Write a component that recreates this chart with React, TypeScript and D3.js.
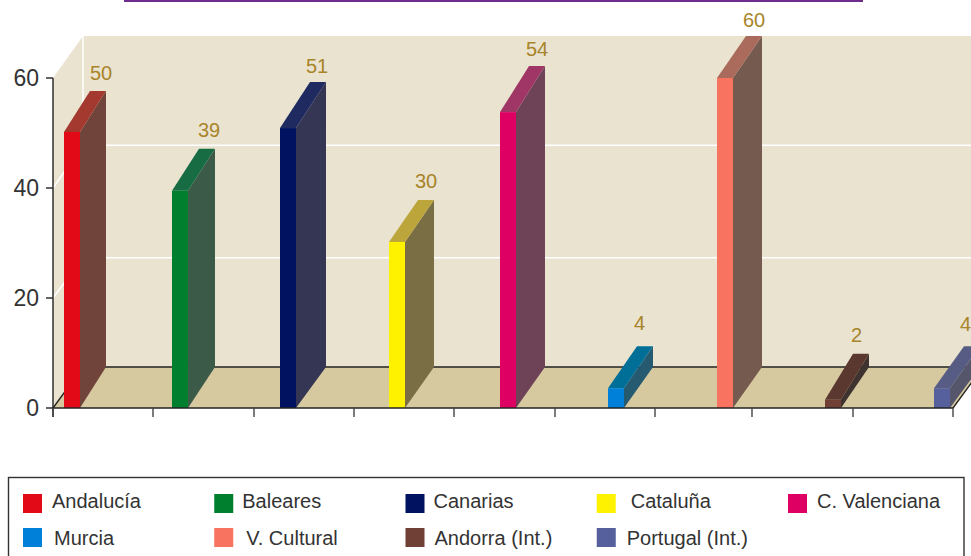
import React from "react";
import * as d3 from "d3";

const categories = ["Andalucía", "Baleares", "Canarias", "Cataluña", "C. Valenciana", "Murcia", "V. Cultural", "Andorra (Int.)", "Portugal (Int.)"];
const barValues = [50.2, 39.5, 50.9, 30.2, 53.8, 3.6, 60, 1.5, 3.6];
const valueLabels = ["50", "39", "51", "30", "54", "4", "60", "2", "4"];
const frontColors = ["#e30a17", "#00802f", "#001260", "#fff200", "#de0063", "#0080d8", "#f87360", "#703f35", "#55609c"];
const sideColors = ["#70443a", "#3c5a48", "#343654", "#7a6f44", "#6e4358", "#255a70", "#745a4f", "#3f3330", "#55566b"];
const topColors = ["#a3392f", "#176c44", "#1f2a60", "#bca53a", "#a03666", "#006f98", "#aa6b5d", "#5a382f", "#575c85"];
const yTicks = [0, 20, 40, 60];

// layout tweaks of the picture (not data)
const depthX = [26, 27, 30, 29, 29, 29, 29, 28, 30];
const depthY = [41, 42, 46, 42, 46, 42, 42, 46, 42];
const barNudge = [0, -0.75, -1.5, -1.25, 1, 0.25, 0.5, -0.25, 0];
const labelRaise = [11, 12, 9.5, 11.5, 10, 16, 9, 12, 15];
const xTickNudge = [0, 0, 1, 1, 1, 2, 2, -1, 0, 0];
const gridNudge = [0, 1, -1, 0];
const legendGaps = [29, 28, 28, 34, 29, 31, 32, 29, 30];
const legendColumns = 5;

const W = 971;
const H = 556;
const axisX = 53;
const wallDX = 30;
const line = d3.line();
const poly = (pts: [number, number][]) => line(pts) + "Z";

export default function App() {
  const y = d3.scaleLinear().domain([0, 60]).range([408, 78]);
  const yBack = d3.scaleLinear().domain([0, 60]).range([367, 36]);
  const x = d3.scaleBand().domain(categories).range([64, 950]).paddingInner(0.853).paddingOuter(0);
  const bw = x.bandwidth();
  const xTick = d3.scaleLinear().domain([0, 9]).range([axisX, 953]);
  const tickIdx = d3.range(10);
  const legX = d3.scaleLinear().domain([0, 4]).range([23, 788]);
  const legY = d3.scaleLinear().domain([0, 1]).range([494, 528]);
  const font = "'Liberation Sans', Arial, sans-serif";
  const y0 = y(0);
  const yB0 = yBack(0);
  const yTop = yBack(60);

  return (
    <svg width={W} height={H} style={{ position: "absolute", left: 0, top: 0, fontFamily: font, background: "#fff" }}>
      <rect x={124} y={0} width={739} height={2} fill="#702c8c" />

      {/* walls and floor */}
      <path d={poly([[axisX, y(60)], [axisX + wallDX, yTop], [W + 20, yTop], [W + 20, yB0], [axisX + wallDX, yB0], [axisX, y0]])} fill="#e9e3d0" />
      <path d={poly([[axisX, y0], [axisX + wallDX, yB0], [953 + wallDX, yB0], [953, y0]])} fill="#d6c9a0" />
      <line x1={axisX + wallDX} x2={axisX + wallDX} y1={yTop} y2={yB0} stroke="#fff" strokeWidth={1.5} />
      {yTicks.map((t, i) => (t > 0 && t < 60 ? (
        <g key={t} stroke="#fff" strokeWidth={1.5} fill="none">
          <line x1={axisX + wallDX} x2={W} y1={yBack(t) + gridNudge[i]} y2={yBack(t) + gridNudge[i]} />
          <line x1={axisX} y1={y(t)} x2={axisX + wallDX} y2={yBack(t) + gridNudge[i]} />
        </g>
      ) : null))}
      <g stroke="#222" strokeWidth={1.3} fill="none">
        <line x1={axisX + wallDX} x2={W} y1={yB0} y2={yB0} />
        <line x1={axisX} y1={y0} x2={axisX + wallDX} y2={yB0} />
        <line x1={953} y1={y0} x2={953 + wallDX} y2={yB0} />
      </g>

      {/* bars */}
      {categories.map((c, i) => {
        const x0 = x(c)! + barNudge[i];
        const x1 = x0 + bw;
        const t = y(barValues[i]);
        const dx = depthX[i];
        const dy = depthY[i];
        return (
          <g key={c}>
            <path d={poly([[x1, t], [x1 + dx, t - dy], [x1 + dx, yB0], [x1, y0]])} fill={sideColors[i]} />
            <path d={poly([[x0, t], [x1, t], [x1 + dx, t - dy], [x0 + dx, t - dy]])} fill={topColors[i]} />
            <rect x={x0} y={t} width={bw} height={y0 - t} fill={frontColors[i]} />
            <text x={x0 + 26} y={t - dy - labelRaise[i]} fontSize={20} fill="#a8842a">{valueLabels[i]}</text>
          </g>
        );
      })}

      {/* axes */}
      <g stroke="#222" strokeWidth={1.4} fill="none">
        <line x1={axisX} x2={axisX} y1={y(60)} y2={417} />
        <line x1={axisX} x2={953} y1={y0} y2={y0} />
        {yTicks.map((t) => <line key={t} x1={46} x2={axisX} y1={y(t)} y2={y(t)} />)}
        {tickIdx.map((i) => (
          <line key={i} x1={xTick(i) + xTickNudge[i]} x2={xTick(i) + xTickNudge[i]} y1={y0} y2={417} stroke="#444" />
        ))}
      </g>
      {yTicks.map((t) => (
        <text key={t} x={39} y={y(t) + 8} textAnchor="end" fontSize={23} fill="#333">{t}</text>
      ))}

      {/* legend */}
      <rect x={8.5} y={477.5} width={955.5} height={100} fill="none" stroke="#333" strokeWidth={1.4} />
      {categories.map((c, i) => {
        const col = i % legendColumns;
        const row = Math.floor(i / legendColumns);
        return (
          <g key={c}>
            <rect x={legX(col)} y={legY(row)} width={19} height={19} fill={frontColors[i]} />
            <text x={legX(col) + legendGaps[i]} y={legY(row) + 14 + row * 3} fontSize={20} fill="#333">{c}</text>
          </g>
        );
      })}
    </svg>
  );
}
